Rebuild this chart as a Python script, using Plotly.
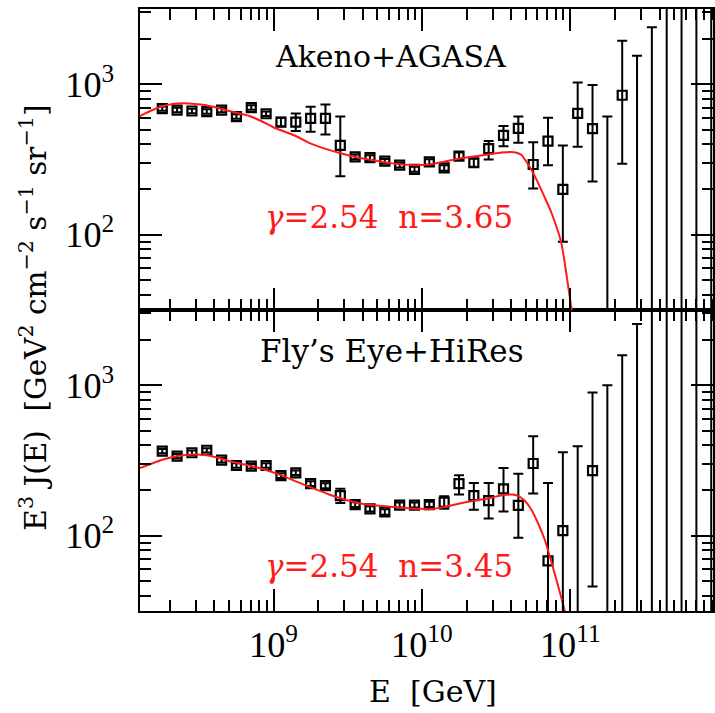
import plotly.graph_objects as go

# ---------------- data ----------------
# log10(E / GeV) of the energy bins
logE = [8.25, 8.35, 8.45, 8.55, 8.65, 8.75, 8.85, 8.95, 9.05, 9.15,
        9.25, 9.35, 9.45, 9.55, 9.65, 9.75, 9.85, 9.95, 10.05, 10.15,
        10.25, 10.35, 10.45, 10.55, 10.65, 10.75, 10.85, 10.95, 11.05, 11.15,
        11.25, 11.35, 11.45, 11.55, 11.65, 11.75, 11.85, 11.95]

# Akeno + AGASA : E^3 J(E), upper and lower ends of error bars
# 'L' = upper limit only (bar down to the axis), 'F' = bar through the whole panel
aga_val = [689, 674, 664, 658, 674, 610, 700, 637, 560, 560,
           593, 593, 393, 329, 325, 308, 290, 272, 305, 278,
           333, 301, 373, 457, 509, 293, 419, 200, 641, 507,
           'L', 845, 'L', 'L', 'F', 'F', 'F', 'F']
aga_hi = [712, 697, 687, 681, 697, 632, 725, 660, 600, 640,
          710, 733, 610, 341, 337, 319, 301, 283, 318, 290,
          352, 320, 419, 527, 610, 412, 599, 392, 1026, 990,
          610, 1945, 1545, 2389, None, None, None, None]
aga_lo = [666, 652, 642, 636, 652, 589, 676, 615, 525, 490,
          484, 464, 245, 318, 314, 298, 280, 262, 292, 266,
          315, 283, 316, 388, 409, 203, 290, 90, 384, 226,
          None, 296, None, None, None, None, None, None]

# Fly's Eye + HiRes
hir_val = [365, 338, 356, 370, 318, 293, 290, 293, 251, 262,
           222, 215, 185, 161, 151, 144, 160, 160, 161, 167,
           222, 185, 171, 205, 159, 302, 68, 108, 'L', 271,
           'L', 'L', 'L', 'F', 'F', 'F', 'F', 'F']
hir_hi = [377, 349, 368, 382, 329, 303, 300, 303, 260, 271,
          230, 223, 205, 167, 157, 150, 166, 166, 168, 183,
          252, 224, 224, 282, 258, 459, 224, 359, 394, 894,
          1000, 1585, 2553, None, None, None, None, None]
hir_lo = [353, 327, 344, 358, 307, 283, 280, 283, 242, 253,
          214, 207, 165, 155, 145, 138, 154, 154, 155, 151,
          188, 149, 130, 145, 97, 191, 'axis', 'axis', None, 46,
          None, None, None, None, None, None, None, None]

# model curves (log10 E, E^3 J)
fit1_logE = [8.10, 8.18, 8.255, 8.32, 8.39, 8.47, 8.546, 8.62, 8.703, 8.77, 8.837, 8.92,
             9.005, 9.08, 9.15, 9.24, 9.34, 9.44, 9.54, 9.642, 9.80, 9.944, 10.045,
             10.15, 10.246, 10.35, 10.447, 10.537, 10.60, 10.638, 10.67, 10.694,
             10.74, 10.783, 10.83, 10.873, 10.94, 11.007, 11.05]
fit1_val = [615, 672, 716, 740, 747, 740, 724, 698, 664, 640, 615, 568,
            514, 482, 453, 408, 375, 351, 331, 316, 298, 290, 293,
            306, 320, 331, 341, 352, 355, 351, 340, 316,
            268, 221, 175, 140, 88, 33, 20]

fit2_logE = [8.10, 8.18, 8.255, 8.32, 8.39, 8.47, 8.546, 8.62, 8.703, 8.81, 8.926,
             9.04, 9.15, 9.26, 9.374, 9.49, 9.597, 9.71, 9.821, 9.92, 10.0, 10.045,
             10.15, 10.246, 10.34, 10.436, 10.50, 10.56, 10.61, 10.649, 10.69,
             10.738, 10.78, 10.828, 10.895, 10.962, 11.0]
fit2_val = [282, 302, 321, 334, 343, 346, 343, 331, 313, 297, 278,
            255, 230, 208, 188, 173, 163, 158, 155, 152, 151, 150,
            155, 163, 170, 176, 182, 187, 188, 184, 172,
            149, 123, 94, 56, 32, 22]

panels = [
    dict(name="Akeno+AGASA", val=aga_val, hi=aga_hi, lo=aga_lo,
         fx=fit1_logE, fy=fit1_val, label="<i>γ</i>=2.54\u00a0\u00a0n=3.65",
         xa="x2", ya="y"),
    dict(name="Fly\u2019s Eye+HiRes", val=hir_val, hi=hir_hi, lo=hir_lo,
         fx=fit2_logE, fy=fit2_val, label="<i>γ</i>=2.54\u00a0\u00a0n=3.45",
         xa="x", ya="y2"),
]

AXIS_BOTTOM = 1.0     # value below the panel range (bar runs to the axis)
AXIS_TOP = 1.0e5      # value above the panel range

fig = go.Figure()

for p in panels:
    mx, my, ep, em = [], [], [], []
    bx, by, bp, bm = [], [], [], []
    for e, v, h, l in zip(logE, p["val"], p["hi"], p["lo"]):
        E = 10 ** e
        if v == 'L':
            bx.append(E); by.append(h); bp.append(0); bm.append(h - AXIS_BOTTOM)
        elif v == 'F':
            bx.append(E); by.append(300); bp.append(AXIS_TOP - 300); bm.append(300 - AXIS_BOTTOM)
        else:
            mx.append(E); my.append(v); ep.append(h - v)
            em.append(v - AXIS_BOTTOM if l == 'axis' else v - l)
    fig.add_trace(go.Scatter(
        x=bx, y=by, mode="markers", xaxis=p["xa"], yaxis=p["ya"],
        marker=dict(size=1, color="rgba(0,0,0,0)"),
        error_y=dict(type="data", symmetric=False, array=bp, arrayminus=bm,
                     color="black", thickness=2, width=5),
        showlegend=False, hoverinfo="skip"))
    fig.add_trace(go.Scatter(
        x=mx, y=my, mode="markers", xaxis=p["xa"], yaxis=p["ya"],
        marker=dict(symbol="square-open", size=9, color="black",
                    line=dict(width=2.2, color="black")),
        error_y=dict(type="data", symmetric=False, array=ep, arrayminus=em,
                     color="black", thickness=2, width=5),
        showlegend=False))
    fig.add_trace(go.Scatter(
        x=[10 ** v for v in p["fx"]], y=p["fy"], mode="lines",
        xaxis=p["xa"], yaxis=p["ya"],
        line=dict(color="#ff1a1a", width=2, shape="spline", smoothing=0.6),
        showlegend=False))

TICKFONT = dict(family="Liberation Serif", size=29, color="black")
minor_ax = dict(ticks="inside", ticklen=11, tickwidth=2, tickcolor="black",
                dtick="D1", showgrid=False)
common_x = dict(type="log", range=[8.1, 11.962], dtick=1, exponentformat="power",
                showline=True, linewidth=2, linecolor="black", mirror="allticks",
                ticks="inside", ticklen=22, tickwidth=2, tickcolor="black",
                showgrid=False, zeroline=False, minor=minor_ax, tickfont=TICKFONT)
common_y = dict(type="log", range=[1.5, 3.5], dtick=1, exponentformat="power",
                showline=True, linewidth=2, linecolor="black", mirror="allticks",
                ticks="inside", ticklen=22, tickwidth=2, tickcolor="black",
                showgrid=False, zeroline=False, minor=minor_ax, tickfont=TICKFONT,
                ticklabelstandoff=18)

fig.update_layout(
    width=715, height=713,
    margin=dict(l=140, r=0, t=9, b=102),
    paper_bgcolor="white", plot_bgcolor="white",
    xaxis=dict(common_x, domain=[0, 1], anchor="y2", ticklabelstandoff=2),
    xaxis2=dict(common_x, domain=[0, 1], anchor="y", matches="x",
                showticklabels=False),
    yaxis=dict(common_y, domain=[0.5, 1], anchor="x2"),
    yaxis2=dict(common_y, domain=[0, 0.5], anchor="x"),
)

REDFONT = dict(family="DejaVu Serif", size=31, color="#ff1a1a")
anns = [
    dict(text="Akeno+AGASA", x=9.79, y=3.187, xref="x2", yref="y",
         font=dict(family="DejaVu Serif", size=30, color="black")),
    dict(text="Fly\u2019s Eye+HiRes", x=9.797, y=3.227, xref="x", yref="y2",
         font=dict(family="DejaVu Serif", size=31, color="black")),
    dict(text=panels[0]["label"], x=9.777, y=2.12, xref="x2", yref="y", font=REDFONT),
    dict(text=panels[1]["label"], x=9.777, y=1.80, xref="x", yref="y2", font=REDFONT),
    dict(text="E\u00a0\u00a0[GeV]", x=0.511, y=-0.134, xref="paper", yref="paper",
         font=dict(family="DejaVu Serif", size=30, color="black")),
    dict(text="E<sup>3</sup> J(E)\u00a0\u00a0[GeV<sup>2</sup> cm<sup>\u22122</sup> s<sup>\u22121</sup> sr<sup>\u22121</sup>]",
         x=-0.186, y=0.488, xref="paper", yref="paper", textangle=-90,
         font=dict(family="DejaVu Serif", size=29.5, color="black")),
]
for a in anns:
    a.update(showarrow=False, xanchor="center", yanchor="middle")
fig.update_layout(annotations=anns)

fig.write_html("out.html")
